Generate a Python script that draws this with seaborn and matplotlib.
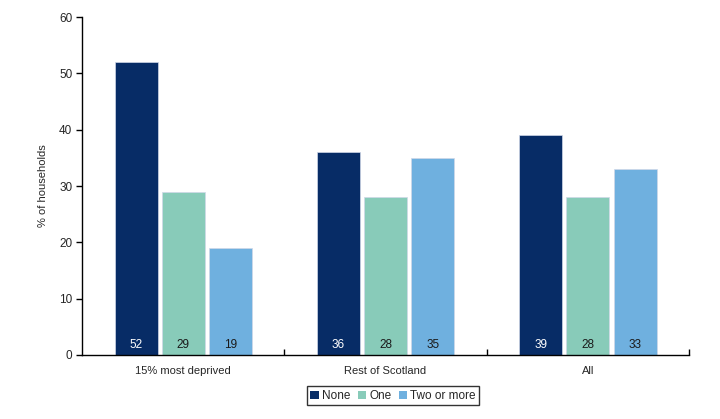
import matplotlib
matplotlib.use("Agg")
import matplotlib.pyplot as plt
import seaborn as sns
import pandas as pd
from matplotlib.patches import Patch

categories = ["15% most deprived", "Rest of Scotland", "All"]
series = ["None", "One", "Two or more"]
none_vals = [52, 36, 39]
one_vals = [29, 28, 28]
two_vals = [19, 35, 33]
colors = ["#072c66", "#88cbb9", "#6fb0df"]
label_colors = ["white", "#1a1a1a", "#1a1a1a"]

rows = []
for s, vals in zip(series, [none_vals, one_vals, two_vals]):
    for c, v in zip(categories, vals):
        rows.append({"cat": c, "series": s, "val": v})
df = pd.DataFrame(rows)

sns.set_theme(style="white")
plt.rcParams['font.family'] = ['Liberation Sans', 'DejaVu Sans']

fig = plt.figure(figsize=(7.2, 4.19), dpi=100)
ax = fig.add_axes([0.114, 0.153, 0.843, 0.806])

sns.barplot(data=df, x="cat", y="val", hue="series", order=categories,
            hue_order=series, palette=colors, width=0.7, gap=0.09,
            saturation=1, ax=ax, legend=False, edgecolor="#d0d8e8", linewidth=0.5)

for i, cont in enumerate(ax.containers):
    for bar in cont:
        h = bar.get_height()
        ax.text(bar.get_x() + bar.get_width() / 2, 1.8, f"{int(round(h))}",
                ha="center", va="center", fontsize=8.5, color=label_colors[i])

ax.set_ylim(0, 60)
ax.set_yticks(range(0, 61, 10))
ax.set_xlim(-0.5, 2.5)
ax.set_xlabel("")
ax.set_ylabel("% of households", fontsize=8)
ax.yaxis.set_label_coords(-0.056, 0.5)
for s in ["top", "right"]:
    ax.spines[s].set_visible(False)
for s in ["left", "bottom"]:
    ax.spines[s].set_color("black")
    ax.spines[s].set_linewidth(1.0)
ax.tick_params(axis="y", which="both", left=True, length=4, width=1, color="black", labelsize=8.5, pad=3)
ax.set_xticks([0, 1, 2])
ax.set_xticklabels(categories, fontsize=8)
ax.tick_params(axis="x", which="major", length=0, pad=8)
ax.set_xticks([0.5, 1.5, 2.5], minor=True)
ax.tick_params(axis="x", which="minor", bottom=True, length=4, width=1, color="black", direction="in")

handles = [Patch(facecolor=c, edgecolor="none", label=s) for c, s in zip(colors, series)]
leg = fig.legend(handles=handles, loc="center", bbox_to_anchor=(0.546, 0.055), ncol=3,
                 frameon=True, fancybox=False, fontsize=8.5, handlelength=0.7,
                 handleheight=0.7, handletextpad=0.3, columnspacing=0.6,
                 borderpad=0.3, borderaxespad=0)
leg.get_frame().set_edgecolor("black")
leg.get_frame().set_linewidth(1.0)

fig.savefig("out.png", dpi=100)
